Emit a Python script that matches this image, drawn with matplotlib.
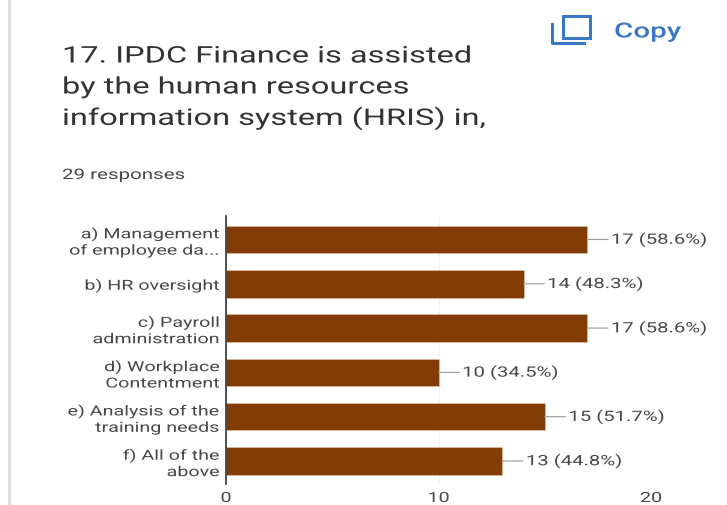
import matplotlib
matplotlib.use('Agg')
import matplotlib.pyplot as plt
from matplotlib.patches import Rectangle
from matplotlib.patheffects import AbstractPathEffect
from matplotlib.transforms import Affine2D

plt.rcParams['font.family'] = ['Roboto', 'DejaVu Sans']

# values
categories = ['a) Management\nof employee da...', 'b) HR oversight', 'c) Payroll\nadministration',
              'd) Workplace\nContentment', 'e) Analysis of the\ntraining needs', 'f) All of the\nabove']
counts = [17, 14, 17, 10, 15, 13]
percents = [58.6, 48.3, 58.6, 34.5, 51.7, 44.8]
xticks = [0, 10, 20]
title_lines = ['17. IPDC Finance is assisted', 'by the human resources', 'information system (HRIS) in,']
subtitle = '29 responses'

W, H = 727, 506
bar_color = '#843c06'
text_color = '#484848'


class Widen(AbstractPathEffect):
    "the screenshot is stretched sideways, so stretch the glyphs around x0 (pixels)"

    def __init__(self, sx, x0=None):
        super().__init__()
        self.sx = sx
        self.x0 = x0

    def draw_path(self, renderer, gc, tpath, affine, rgbFace=None):
        x0 = affine.get_matrix()[0, 2] if self.x0 is None else self.x0
        stretch = Affine2D().translate(-x0, 0).scale(self.sx, 1).translate(x0, 0)
        renderer.draw_path(gc, tpath, affine + stretch, rgbFace)


fig = plt.figure(figsize=(W / 100, H / 100), dpi=100, facecolor='white')
ax = fig.add_axes([226 / W, (H - 485) / H, 425 / W, 268 / H])

ypos = list(range(len(categories)))
ax.barh(ypos, counts, height=0.62, color=bar_color, edgecolor='#e8c9a8', linewidth=0.4, zorder=3)
ax.set_ylim(5.52, -0.53)
ax.set_xlim(xticks[0], xticks[-1])

ax.set_xticks(xticks)
ax.set_xticklabels([str(t) for t in xticks], fontsize=10, color=text_color)
ax.set_yticks(ypos)
ax.set_yticklabels(categories, fontsize=10, color=text_color, linespacing=1.18)
ax.tick_params(axis='both', length=0)
ax.tick_params(axis='y', pad=4.5)
ax.tick_params(axis='x', pad=5)
ax.xaxis.grid(True, color='#f2f2f2', linewidth=0.8, zorder=0)
ax.set_axisbelow(True)

for lab in ax.get_yticklabels():
    lab.set_path_effects([Widen(1.42, x0=220)])
for t, lab in zip(xticks, ax.get_xticklabels()):
    lab.set_path_effects([Widen(1.42, x0=ax.transData.transform((t, 0))[0])])

for side in ['top', 'right', 'bottom']:
    ax.spines[side].set_visible(False)
ax.spines['left'].set_color('#333333')
ax.spines['left'].set_linewidth(1.2)
ax.spines['left'].set_zorder(4)

for y, c, p in zip(ypos, counts, percents):
    ann = ax.annotate(f'{c} ({p}%)', xy=(c, y), xytext=(17, 0), textcoords='offset points',
                      va='center', ha='left', fontsize=10.3, color=text_color, annotation_clip=False,
                      arrowprops=dict(arrowstyle='-', color='#999999', linewidth=0.8, shrinkA=0, shrinkB=0))
    ann.set_path_effects([Widen(1.42)])

# title block
for line, py in zip(title_lines, [57, 88, 119]):
    t = fig.text(62 / W, 1 - py / H, line, fontsize=16.5, color='#333333', va='center', ha='left')
    t.set_path_effects([Widen(1.42)])
t = fig.text(62 / W, 1 - 176 / H, subtitle, fontsize=10.4, color=text_color, va='center', ha='left')
t.set_path_effects([Widen(1.42)])

# copy button
blue = '#3b78c4'
fig.add_artist(Rectangle((563 / W, 1 - 39 / H), 27 / W, 22 / H, transform=fig.transFigure,
                         fill=False, edgecolor=blue, linewidth=2.2))
fig.add_artist(plt.Line2D([552 / W, 552 / W, 584 / W], [1 - 25 / H, 1 - 44 / H, 1 - 44 / H],
                          color=blue, linewidth=2.2, transform=fig.transFigure))
t = fig.text(614 / W, 1 - 33 / H, 'Copy', fontsize=15, color=blue, fontweight='medium', va='center', ha='left')
t.set_path_effects([Widen(1.42)])

# grey page edge on the left
fig.add_artist(plt.Line2D([9 / W, 9 / W], [0, 1], color='#dddddd', linewidth=2, transform=fig.transFigure))

fig.savefig('out.png', dpi=100)
